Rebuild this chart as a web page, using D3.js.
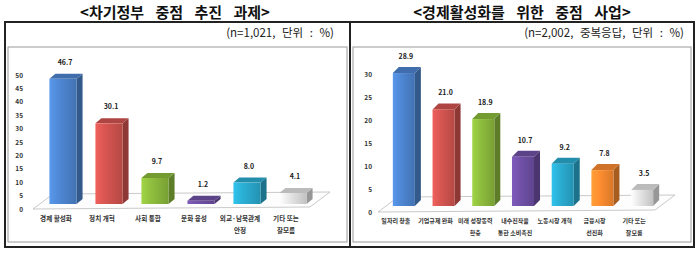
<!DOCTYPE html>
<html>
<head>
<meta charset="utf-8">
<script src="https://cdn.jsdelivr.net/npm/d3@7"></script>
<style>
  body { margin: 0; background: #fff; }
  svg { display: block; font-family: "Noto Sans CJK KR", "Noto Sans", sans-serif; }
</style>
</head>
<body>
<svg id="chart" width="700" height="254"></svg>
<script>
// left chart data
const leftTitle = '<차기정부 중점 추진 과제>';
const leftNote = '(n=1,021, 단위 : %)';
const leftCategories = [['경제 활성화'], ['정치 개혁'], ['사회 통합'], ['문화 융성'], ['외교·남북관계', '안정'], ['기타 또는', '잘모름']];
const leftValues = [46.7, 30.1, 9.7, 1.2, 8.0, 4.1];
const leftTicks = [0, 5, 10, 15, 20, 25, 30, 35, 40, 45, 50];

// right chart data
const rightTitle = '<경제활성화를 위한 중점 사업>';
const rightNote = '(n=2,002, 중복응답, 단위 : %)';
const rightCategories = [['일자리 창출'], ['기업규제 완화'], ['미래 성장동력', '확충'], ['내수진작을', '통한 소비촉진'], ['노동시장 개혁'], ['금융시장', '선진화'], ['기타 또는', '잘모름']];
const rightValues = [28.9, 21.0, 18.9, 10.7, 9.2, 7.8, 3.5];
const rightTicks = [0, 5, 10, 15, 20, 25, 30];

const leftColors = ['#4a7fc6', '#c9504c', '#86b23a', '#6a4c9e', '#28a3c6', '#d8d8d8'];
const rightColors = ['#4a7fc6', '#c9504c', '#86b23a', '#6a4c9e', '#28a3c6', '#f0852e', '#d8d8d8'];

const svg = d3.select('#chart');
const defs = svg.append('defs');

// outer frames
svg.append('rect').attr('x', 5).attr('y', 22).attr('width', 345).attr('height', 225)
  .attr('fill', 'none').attr('stroke', '#222').attr('stroke-width', 2);
svg.append('rect').attr('x', 350).attr('y', 22).attr('width', 344).attr('height', 225)
  .attr('fill', 'none').attr('stroke', '#222').attr('stroke-width', 2);

function drawPanel(cfg) {
  const g = svg.append('g');

  g.append('text')
    .attr('x', cfg.titleX).attr('y', 17.5)
    .attr('text-anchor', 'middle')
    .style('font-size', '15px').style('font-weight', 'bold')
    .style('word-spacing', '8px')
    .attr('fill', '#111')
    .text(cfg.title);

  g.append('text')
    .attr('x', cfg.noteX).attr('y', 37)
    .attr('text-anchor', 'end')
    .style('font-size', '11.5px')
    .style('word-spacing', '4px')
    .attr('fill', '#222')
    .text(cfg.note);

  // inner chart box
  g.append('rect')
    .attr('x', cfg.box[0]).attr('y', 47)
    .attr('width', cfg.box[1] - cfg.box[0]).attr('height', 195)
    .attr('fill', '#fff').attr('stroke', '#999').attr('stroke-width', 1);

  const y = d3.scaleLinear().domain(cfg.domain).range(cfg.yRange);
  const x = d3.scaleBand()
    .domain(d3.range(cfg.values.length))
    .range(cfg.xRange)
    .paddingInner(cfg.padIn)
    .paddingOuter(cfg.padIn / 2);

  const y0 = y(0);
  const fx = cfg.floor[0], fx2 = cfg.floor[1];
  const off = [20, -15];

  // floor
  g.append('path')
    .attr('d', `M${fx},${y0} L${fx2},${y0 - 2} L${fx2 + off[0]},${y0 - 2 + off[1]} L${fx + off[0]},${y0 + off[1]} Z`)
    .attr('fill', '#fdfdfd').attr('stroke', '#bbb').attr('stroke-width', 0.8);

  // y axis tick labels
  g.selectAll('.tick-label')
    .data(cfg.ticks)
    .join('text')
    .attr('class', 'tick-label')
    .attr('x', cfg.tickX).attr('y', d => y(d) + 2.5)
    .attr('text-anchor', 'end')
    .style('font-size', '6.5px').style('font-weight', 'bold')
    .attr('fill', '#333')
    .text(d => d);

  const dx = cfg.depth[0], dy = cfg.depth[1];
  const bw = x.bandwidth();

  cfg.values.forEach((v, i) => {
    const c = d3.color(cfg.colors[i]);
    const gid = `${cfg.id}-g${i}`;
    const grad = defs.append('linearGradient').attr('id', gid)
      .attr('x1', 0).attr('x2', 1).attr('y1', 0).attr('y2', 0);
    grad.append('stop').attr('offset', 0).attr('stop-color', c.brighter(0.5));
    grad.append('stop').attr('offset', 0.35).attr('stop-color', c.brighter(0.2));
    grad.append('stop').attr('offset', 1).attr('stop-color', c.darker(0.3));

    const x0 = x(i);
    const base = y0 - cfg.lift;
    const top = y(v) - cfg.lift;
    const bar = g.append('g');

    // right side face
    bar.append('path')
      .attr('d', `M${x0 + bw},${base} L${x0 + bw + dx},${base + dy} L${x0 + bw + dx},${top + dy} L${x0 + bw},${top} Z`)
      .attr('fill', c.darker(1));
    // top face
    bar.append('path')
      .attr('d', `M${x0},${top} L${x0 + dx},${top + dy} L${x0 + bw + dx},${top + dy} L${x0 + bw},${top} Z`)
      .attr('fill', c.darker(0.4));
    // front face
    bar.append('rect')
      .attr('x', x0).attr('y', top)
      .attr('width', bw).attr('height', base - top)
      .attr('fill', `url(#${gid})`);

    // value label
    g.append('text')
      .attr('x', x0 + bw / 2 + 2).attr('y', top - 14)
      .attr('text-anchor', 'middle')
      .style('font-size', '7px').style('font-weight', 'bold')
      .attr('fill', '#222')
      .text(v.toFixed(1));

    // category label
    const lab = g.append('text')
      .attr('text-anchor', 'middle')
      .style('font-size', cfg.labelSize).style('font-weight', 'bold')
      .attr('fill', '#333');
    cfg.categories[i].forEach((s, k) => {
      lab.append('tspan')
        .attr('x', x0 + bw / 2 - cfg.labelShift)
        .attr('y', cfg.labelY + k * 12)
        .text(s);
    });
  });
}

drawPanel({
  id: 'left', title: leftTitle, note: leftNote, titleX: 175, noteX: 334,
  box: [8, 347], values: leftValues, categories: leftCategories, colors: leftColors,
  ticks: leftTicks, domain: [0, 50], yRange: [209, 75], xRange: [40, 316], padIn: 0.41,
  floor: [33, 310], tickX: 23, depth: [6, -5], lift: 5, labelShift: 7, labelY: 221, labelSize: '6.6px'
});

drawPanel({
  id: 'right', title: rightTitle, note: rightNote, titleX: 522, noteX: 684,
  box: [353, 691], values: rightValues, categories: rightCategories, colors: rightColors,
  ticks: rightTicks, domain: [0, 30], yRange: [212, 74], xRange: [384, 662], padIn: 0.445,
  floor: [378, 655], tickX: 372, depth: [6, -6], lift: 6, labelShift: 8, labelY: 223, labelSize: '6px'
});
</script>
</body>
</html>
